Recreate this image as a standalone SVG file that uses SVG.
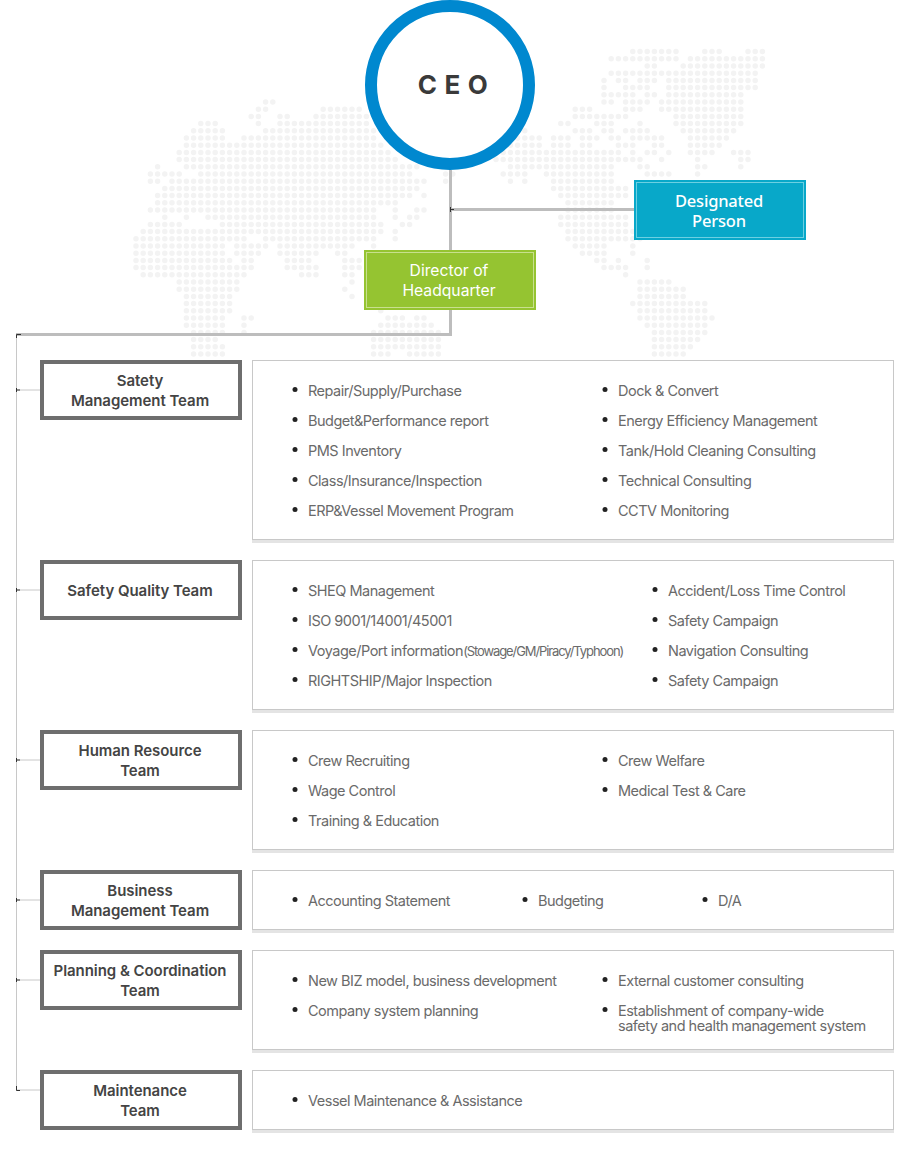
<svg xmlns="http://www.w3.org/2000/svg" width="900" height="1150" viewBox="0 0 900 1150">
<style>
text{font-family:"Inter","Liberation Sans",sans-serif}
.dots{fill:none;stroke:#f3f3f3;stroke-width:.76;stroke-linecap:round;stroke-dasharray:0 1}
.con{fill:none;stroke:#bdbdbd;stroke-width:3}
.thin{fill:none;stroke:#c8c8c8;stroke-width:1}
.tick{fill:none;stroke:#333;stroke-width:1}
.team rect{fill:#fff;stroke:#6e6e6e;stroke-width:4}
.team text{font-size:15px;font-weight:600;fill:#444;text-anchor:middle;letter-spacing:-.05px}
.panel{fill:#fff;stroke:#c8c8c8;stroke-width:1}
.band{fill:#e4e4e4}
.bul{fill:#222}
.it{font-size:14.5px;fill:#6a6a6a;letter-spacing:-.5px}
.white{fill:#fff;text-anchor:middle}
.np{font-family:"Noto Sans",sans-serif}
</style>
<g id="world-map" transform="translate(136 102) scale(7.2)">
<path class="dots" d="M69-7H75.01M79-7H81.01M85-7H87.01M66-6H75.01M77-6H87.01M71-5H72.01M76-5H87.01M66-4H86.01M65-3h.01M67-3H68.01M70-3H72.01M74-3H86.01M65-2h.01M68-2H71.01M74-2H86.01M65-1H69.01M71-1H72.01M74-1H84.01
M18 0H19.01M65 0H66.01M68 0H71.01M73 0H84.01M17 1H18.01M26 1H31.01M61 1H63.01M68 1H70.01M73 1H84.01M16 2H17.01M20 2H21.01M25 2H32.01M61 2H68.01M75 2H84.01M9 3H11.01M17 3h.01M20 3H32.01M59 3H60.01M64 3H66.01M70 3h.01M75 3H84.01
M8 4H12.01M18 4H33.01M54 4h.01M61 4H63.01M65 4H66.01M68 4H71.01M76 4H83.01M7 5H12.01M15 5H33.01M52 5H56.01M58 5H60.01M62 5H64.01M66 5H67.01M69 5H73.01M77 5H82.01M7 6H34.01M52 6H56.01M58 6H60.01M62 6H63.01M67 6H69.01M72 6H73.01M77 6H81.01
M6 7H35.01M51 7H67.01M69 7h.01M71 7H72.01M74 7h.01M77 7H80.01M83 7H85.01M6 8H36.01M50 8H70.01M73 8h.01M78 8h.01M84 8H85.01M3 9h.01M7 9H39.01M52 9H66.01M70 9H71.01M78 9H79.01M84 9h.01
M2 10H6.01M9 10H38.01M43 10H44.01M51 10H54.01M57 10H66.01M71 10H74.01M78 10h.01M2 11H3.01M5 11H40.01M43 11h.01M52 11h.01M54 11h.01M58 11H66.01M4 12H39.01M58 12H68.01M3 13H38.01M40 13h.01M59 13H68.01M3 14H36.01M60 14H66.01
M2 15H33.01M36 15h.01M39 15H40.01M60 15H66.01M4 16h.01M7 16h.01M10 16H33.01M36 16h.01M38 16H39.01M59 16H68.01M2 17H6.01M12 17H34.01M37 17H38.01M59 17H68.01M1 18H34.01M36 18h.01M60 18H70.01M0 19H15.01M18 19H33.01M36 19h.01M60 19H70.01
M0 20H12.01M14 20H18.01M20 20H30.01M33 20h.01M61 20H65.01M69 20h.01M0 21H12.01M14 21H17.01M20 21H25.01M28 21H29.01M62 21H65.01M69 21h.01M0 22H13.01M15 22H16.01M21 22H24.01M29 22H31.01M64 22H65.01M67 22h.01M71 22h.01M0 23H16.01M21 23H25.01M29 23H31.01M65 23H68.01M71 23h.01M1 24H15.01M23 24H25.01M29 24H30.01M68 24h.01
M6 25H14.01M30 25h.01M70 25H74.01M6 26H14.01M29 26h.01M70 26H76.01M7 27H13.01M30 27h.01M70 27H76.01M7 28H13.01M69 28H79.01M7 29H13.01M34 29h.01M70 29H79.01M7 30H12.01M15 30H16.01M35 30H37.01M39 30H40.01M70 30H80.01M7 31H12.01M15 31h.01M34 31H41.01M71 31H79.01M8 32H12.01M15 32h.01M33 32H42.01M72 32H79.01M8 33H11.01M33 33H42.01M72 33H78.01M8 34H12.01M33 34H42.01M72 34H77.01M8 35H12.01M33 35H35.01M38 35H42.01M72 35H76.01"/>
</g>
<g id="connectors">
<path class="con" d="M450.500 170V334.500H16"/>
<path class="con" d="M451 209.500H634"/>
<path class="thin" d="M16.500 334V1090.500M16.500 390H40M16.500 590H40M16.500 760H40M16.500 900H40M16.500 980H40M16.500 1090H40"/>
<path class="tick" d="M450.500 207V212M450.500 209.500H454M16.500 338V334.500H21M16.500 388V392M16.500 390H20M16.500 588V592M16.500 590H20M16.500 758V762M16.500 760H20M16.500 898V902M16.500 900H20M16.500 978V982M16.500 980H20M16.500 1086V1090.500H20"/>
</g>
<g id="ceo">
<circle cx="450" cy="85" r="79" fill="#fff" stroke="#0088cf" stroke-width="12"/>
<text x="456.500" y="94" text-anchor="middle" font-size="26" font-weight="700" fill="#3a3a3a" letter-spacing="7.500">CEO</text>
</g>
<g id="designated-person">
<rect x="634" y="180" width="172" height="60" fill="#08a8c9"/>
<rect x="636.500" y="182.500" width="167" height="55" fill="none" stroke="#6cd0e2" stroke-width="1"/>
<text class="white np" x="719" y="206.500" font-size="16.500" font-weight="500" letter-spacing="-.2">Designated</text>
<text class="white np" x="719" y="227" font-size="16.500" font-weight="500" letter-spacing="-.2">Person</text>
</g>
<g id="director">
<rect x="364" y="250" width="172" height="60" fill="#95c431"/>
<rect x="366.500" y="252.500" width="167" height="55" fill="none" stroke="#c8e08e" stroke-width="1"/>
<text class="white" x="449" y="276" font-size="15.700">Director of</text>
<text class="white" x="449" y="296" font-size="15.700">Headquarter</text>
</g>
<g id="team-safety-management" class="team">
<rect x="42" y="362" width="198" height="56"/>
<text x="140" y="386">Satety</text><text x="140" y="406">Management Team</text>
</g>
<g id="team-safety-quality" class="team">
<rect x="42" y="562" width="198" height="56"/>
<text x="140" y="596">Safety Quality Team</text>
</g>
<g id="team-human-resource" class="team">
<rect x="42" y="732" width="198" height="56"/>
<text x="140" y="756">Human Resource</text><text x="140" y="776">Team</text>
</g>
<g id="team-business-management" class="team">
<rect x="42" y="872" width="198" height="56"/>
<text x="140" y="896">Business</text><text x="140" y="916">Management Team</text>
</g>
<g id="team-planning" class="team">
<rect x="42" y="952" width="198" height="56"/>
<text x="140" y="976">Planning &amp; Coordination</text><text x="140" y="996">Team</text>
</g>
<g id="team-maintenance" class="team">
<rect x="42" y="1072" width="198" height="56"/>
<text x="140" y="1096">Maintenance</text><text x="140" y="1116">Team</text>
</g>
<g id="duties-safety-management">
<rect class="band" x="252" y="540" width="642" height="3"/><rect class="panel" x="252.500" y="360.500" width="641" height="179"/>
<g class="bul"><circle cx="295" cy="389.500" r="2.500"/><circle cx="295" cy="419.500" r="2.500"/><circle cx="295" cy="449.500" r="2.500"/><circle cx="295" cy="479.500" r="2.500"/><circle cx="295" cy="509.500" r="2.500"/><circle cx="605" cy="389.500" r="2.500"/><circle cx="605" cy="419.500" r="2.500"/><circle cx="605" cy="449.500" r="2.500"/><circle cx="605" cy="479.500" r="2.500"/><circle cx="605" cy="509.500" r="2.500"/></g>
<text class="it" x="308" y="396">Repair/Supply/Purchase</text><text class="it" x="308" y="426">Budget&amp;Performance report</text><text class="it" x="308" y="456">PMS Inventory</text><text class="it" x="308" y="486">Class/Insurance/Inspection</text><text class="it" x="308" y="516">ERP&amp;Vessel Movement Program</text>
<text class="it" x="618" y="396">Dock &amp; Convert</text><text class="it" x="618" y="426">Energy Efficiency Management</text><text class="it" x="618" y="456">Tank/Hold Cleaning Consulting</text><text class="it" x="618" y="486">Technical Consulting</text><text class="it" x="618" y="516">CCTV Monitoring</text>
</g>
<g id="duties-safety-quality">
<rect class="band" x="252" y="710" width="642" height="3"/><rect class="panel" x="252.500" y="560.500" width="641" height="149"/>
<g class="bul"><circle cx="295" cy="589.500" r="2.500"/><circle cx="295" cy="619.500" r="2.500"/><circle cx="295" cy="649.500" r="2.500"/><circle cx="295" cy="679.500" r="2.500"/><circle cx="655" cy="589.500" r="2.500"/><circle cx="655" cy="619.500" r="2.500"/><circle cx="655" cy="649.500" r="2.500"/><circle cx="655" cy="679.500" r="2.500"/></g>
<text class="it" x="308" y="596">SHEQ Management</text><text class="it" x="308" y="626">ISO 9001/14001/45001</text><text class="it" x="308" y="656">Voyage/Port information<tspan font-size="13" letter-spacing="-1.100">(Stowage/GM/Piracy/Typhoon)</tspan></text><text class="it" x="308" y="686">RIGHTSHIP/Major Inspection</text>
<text class="it" x="668" y="596">Accident/Loss Time Control</text><text class="it" x="668" y="626">Safety Campaign</text><text class="it" x="668" y="656">Navigation Consulting</text><text class="it" x="668" y="686">Safety Campaign</text>
</g>
<g id="duties-human-resource">
<rect class="band" x="252" y="850" width="642" height="3"/><rect class="panel" x="252.500" y="730.500" width="641" height="119"/>
<g class="bul"><circle cx="295" cy="759.500" r="2.500"/><circle cx="295" cy="789.500" r="2.500"/><circle cx="295" cy="819.500" r="2.500"/><circle cx="605" cy="759.500" r="2.500"/><circle cx="605" cy="789.500" r="2.500"/></g>
<text class="it" x="308" y="766">Crew Recruiting</text><text class="it" x="308" y="796">Wage Control</text><text class="it" x="308" y="826">Training &amp; Education</text>
<text class="it" x="618" y="766">Crew Welfare</text><text class="it" x="618" y="796">Medical Test &amp; Care</text>
</g>
<g id="duties-business-management">
<rect class="band" x="252" y="930" width="642" height="3"/><rect class="panel" x="252.500" y="870.500" width="641" height="59"/>
<g class="bul"><circle cx="295" cy="899.500" r="2.500"/><circle cx="525" cy="899.500" r="2.500"/><circle cx="705" cy="899.500" r="2.500"/></g>
<text class="it" x="308" y="906">Accounting Statement</text><text class="it" x="538" y="906">Budgeting</text><text class="it" x="718" y="906">D/A</text>
</g>
<g id="duties-planning">
<rect class="band" x="252" y="1050" width="642" height="3"/><rect class="panel" x="252.500" y="950.500" width="641" height="99"/>
<g class="bul"><circle cx="295" cy="979.500" r="2.500"/><circle cx="295" cy="1009.500" r="2.500"/><circle cx="605" cy="979.500" r="2.500"/><circle cx="605" cy="1009.500" r="2.500"/></g>
<text class="it" x="308" y="986">New BIZ model, business development</text><text class="it" x="308" y="1016">Company system planning</text>
<text class="it" x="618" y="986">External customer consulting</text><text class="it" x="618" y="1016">Establishment of company-wide</text><text class="it" x="618" y="1031">safety and health management system</text>
</g>
<g id="duties-maintenance">
<rect class="band" x="252" y="1130" width="642" height="3"/><rect class="panel" x="252.500" y="1070.500" width="641" height="59"/>
<circle class="bul" cx="295" cy="1099.500" r="2.500"/>
<text class="it" x="308" y="1106">Vessel Maintenance &amp; Assistance</text>
</g>
</svg>
